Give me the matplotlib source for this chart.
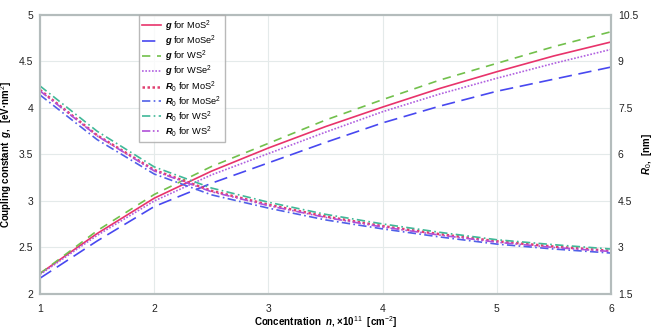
import numpy as np
import matplotlib
matplotlib.use('Agg')
from matplotlib import pyplot as plt

plt.rcParams['font.family'] = ['Liberation Sans', 'DejaVu Sans']
plt.rcParams['mathtext.fontset'] = 'custom'
plt.rcParams['mathtext.rm'] = 'Liberation Sans'
plt.rcParams['mathtext.it'] = 'Liberation Sans:italic:bold'
plt.rcParams['mathtext.bf'] = 'Liberation Sans:bold'

# concentration, x10^11 cm^-2
n = [1, 1.5, 2, 2.5, 3, 3.5, 4, 4.5, 5, 5.5, 6]

# coupling constant g (left axis)
g_mos2 = [2.22, 2.65, 3.03, 3.32, 3.57, 3.80, 4.01, 4.21, 4.39, 4.56, 4.71]
g_mose2 = [2.17, 2.57, 2.94, 3.19, 3.41, 3.63, 3.84, 4.02, 4.18, 4.31, 4.44]
g_ws2 = [2.22, 2.68, 3.07, 3.37, 3.62, 3.87, 4.09, 4.30, 4.48, 4.66, 4.82]
g_wse2 = [2.21, 2.63, 3.00, 3.28, 3.51, 3.74, 3.96, 4.15, 4.32, 4.48, 4.63]

# R0 (right axis)
r_mos2 = [8.08, 6.62, 5.50, 4.83, 4.38, 4.00, 3.69, 3.43, 3.20, 3.03, 2.89]
r_mose2 = [7.92, 6.48, 5.37, 4.70, 4.27, 3.89, 3.60, 3.34, 3.11, 2.95, 2.82]
r_ws2 = [8.21, 6.75, 5.60, 4.92, 4.46, 4.07, 3.76, 3.49, 3.25, 3.09, 2.95]
r_wse2 = [8.05, 6.60, 5.47, 4.80, 4.35, 3.97, 3.66, 3.40, 3.17, 3.00, 2.87]

xticks = [1, 2, 3, 4, 5, 6]
yticks_left = [2, 2.5, 3, 3.5, 4, 4.5, 5]
yticks_right = [1.5, 3, 4.5, 6, 7.5, 9, 10.5]

fig = plt.figure(figsize=(6.54, 3.28), dpi=100)
ax = fig.add_axes([0.0612, 0.1037, 0.8731, 0.8506])
ax2 = ax.twinx()

spine_c = '#b4bcbc'
grid_c = '#e4eaea'

l1, = ax.plot(n, g_mos2, color='#e8336b', lw=1.2, ls='-')
l2, = ax.plot(n, g_mose2, color='#4848f0', lw=1.2, dashes=(8, 4))
l3, = ax.plot(n, g_ws2, color='#72c04c', lw=1.2, dashes=(5, 4))
l4, = ax.plot(n, g_wse2, color='#b060e0', lw=1.2, dashes=(1, 1))

l5, = ax2.plot(n, r_mos2, color='#e04070', lw=1.8, dashes=(1, 1))
l6, = ax2.plot(n, r_mose2, color='#5060e8', lw=1.2, dashes=(5, 2, 1, 2))
l7, = ax2.plot(n, r_ws2, color='#40b898', lw=1.2, dashes=(5, 2, 1, 2))
l8, = ax2.plot(n, r_wse2, color='#b050d8', lw=1.2, dashes=(5, 1.5, 1, 1.5, 1, 1.5))

ax.set_xlim(1, 6)
ax.set_ylim(2, 5)
ax2.set_ylim(1.5, 10.5)
ax.set_xticks(xticks)
ax.set_yticks(yticks_left)
ax.set_yticklabels(['2', '2.5', '3', '3.5', '4', '4.5', '5'])
ax2.set_yticks(yticks_right)
ax2.set_yticklabels(['1.5', '3', '4.5', '6', '7.5', '9', '10.5'])
ax.grid(True, color=grid_c, lw=0.8)
ax.set_axisbelow(True)

for a in (ax, ax2):
    for s in a.spines.values():
        s.set_color(spine_c)
        s.set_linewidth(1.5)
    a.tick_params(length=0, labelsize=7.5, colors='#222222')
ax.tick_params(axis='x', pad=7)
ax.tick_params(axis='y', pad=5)
ax2.tick_params(axis='y', pad=5)

ax.set_xlabel('Concentration  $\\mathit{n}$, ×10$^{11}$  [cm$^{-2}$]',
              fontsize=7, fontweight='bold', labelpad=0)
ax.set_ylabel('Coupling constant  $\\mathit{g}$,  [eV·nm$^{2}$]',
              fontsize=7, fontweight='bold', labelpad=3)
ax2.set_ylabel('$\\mathit{R_0}$,  [nm]', fontsize=7, fontweight='bold', labelpad=1)

labels = [r'$\mathit{g}$ for MoS$^2$', r'$\mathit{g}$ for MoSe$^2$',
          r'$\mathit{g}$ for WS$^2$', r'$\mathit{g}$ for WSe$^2$',
          r'$\mathit{R_0}$ for MoS$^2$', r'$\mathit{R_0}$ for MoSe$^2$',
          r'$\mathit{R_0}$ for WS$^2$', r'$\mathit{R_0}$ for WS$^2$']
leg = ax2.legend([l1, l2, l3, l4, l5, l6, l7, l8], labels,
                 loc='upper left', bbox_to_anchor=(0.173, 1.0),
                 fontsize=6.7, frameon=True, fancybox=False,
                 handlelength=2.0, handletextpad=0.5, labelspacing=0.0,
                 borderpad=0.35, borderaxespad=0)
leg.get_frame().set_edgecolor('#a8a8a8')
leg.get_frame().set_linewidth(1.0)

fig.savefig('out.png', dpi=100)
